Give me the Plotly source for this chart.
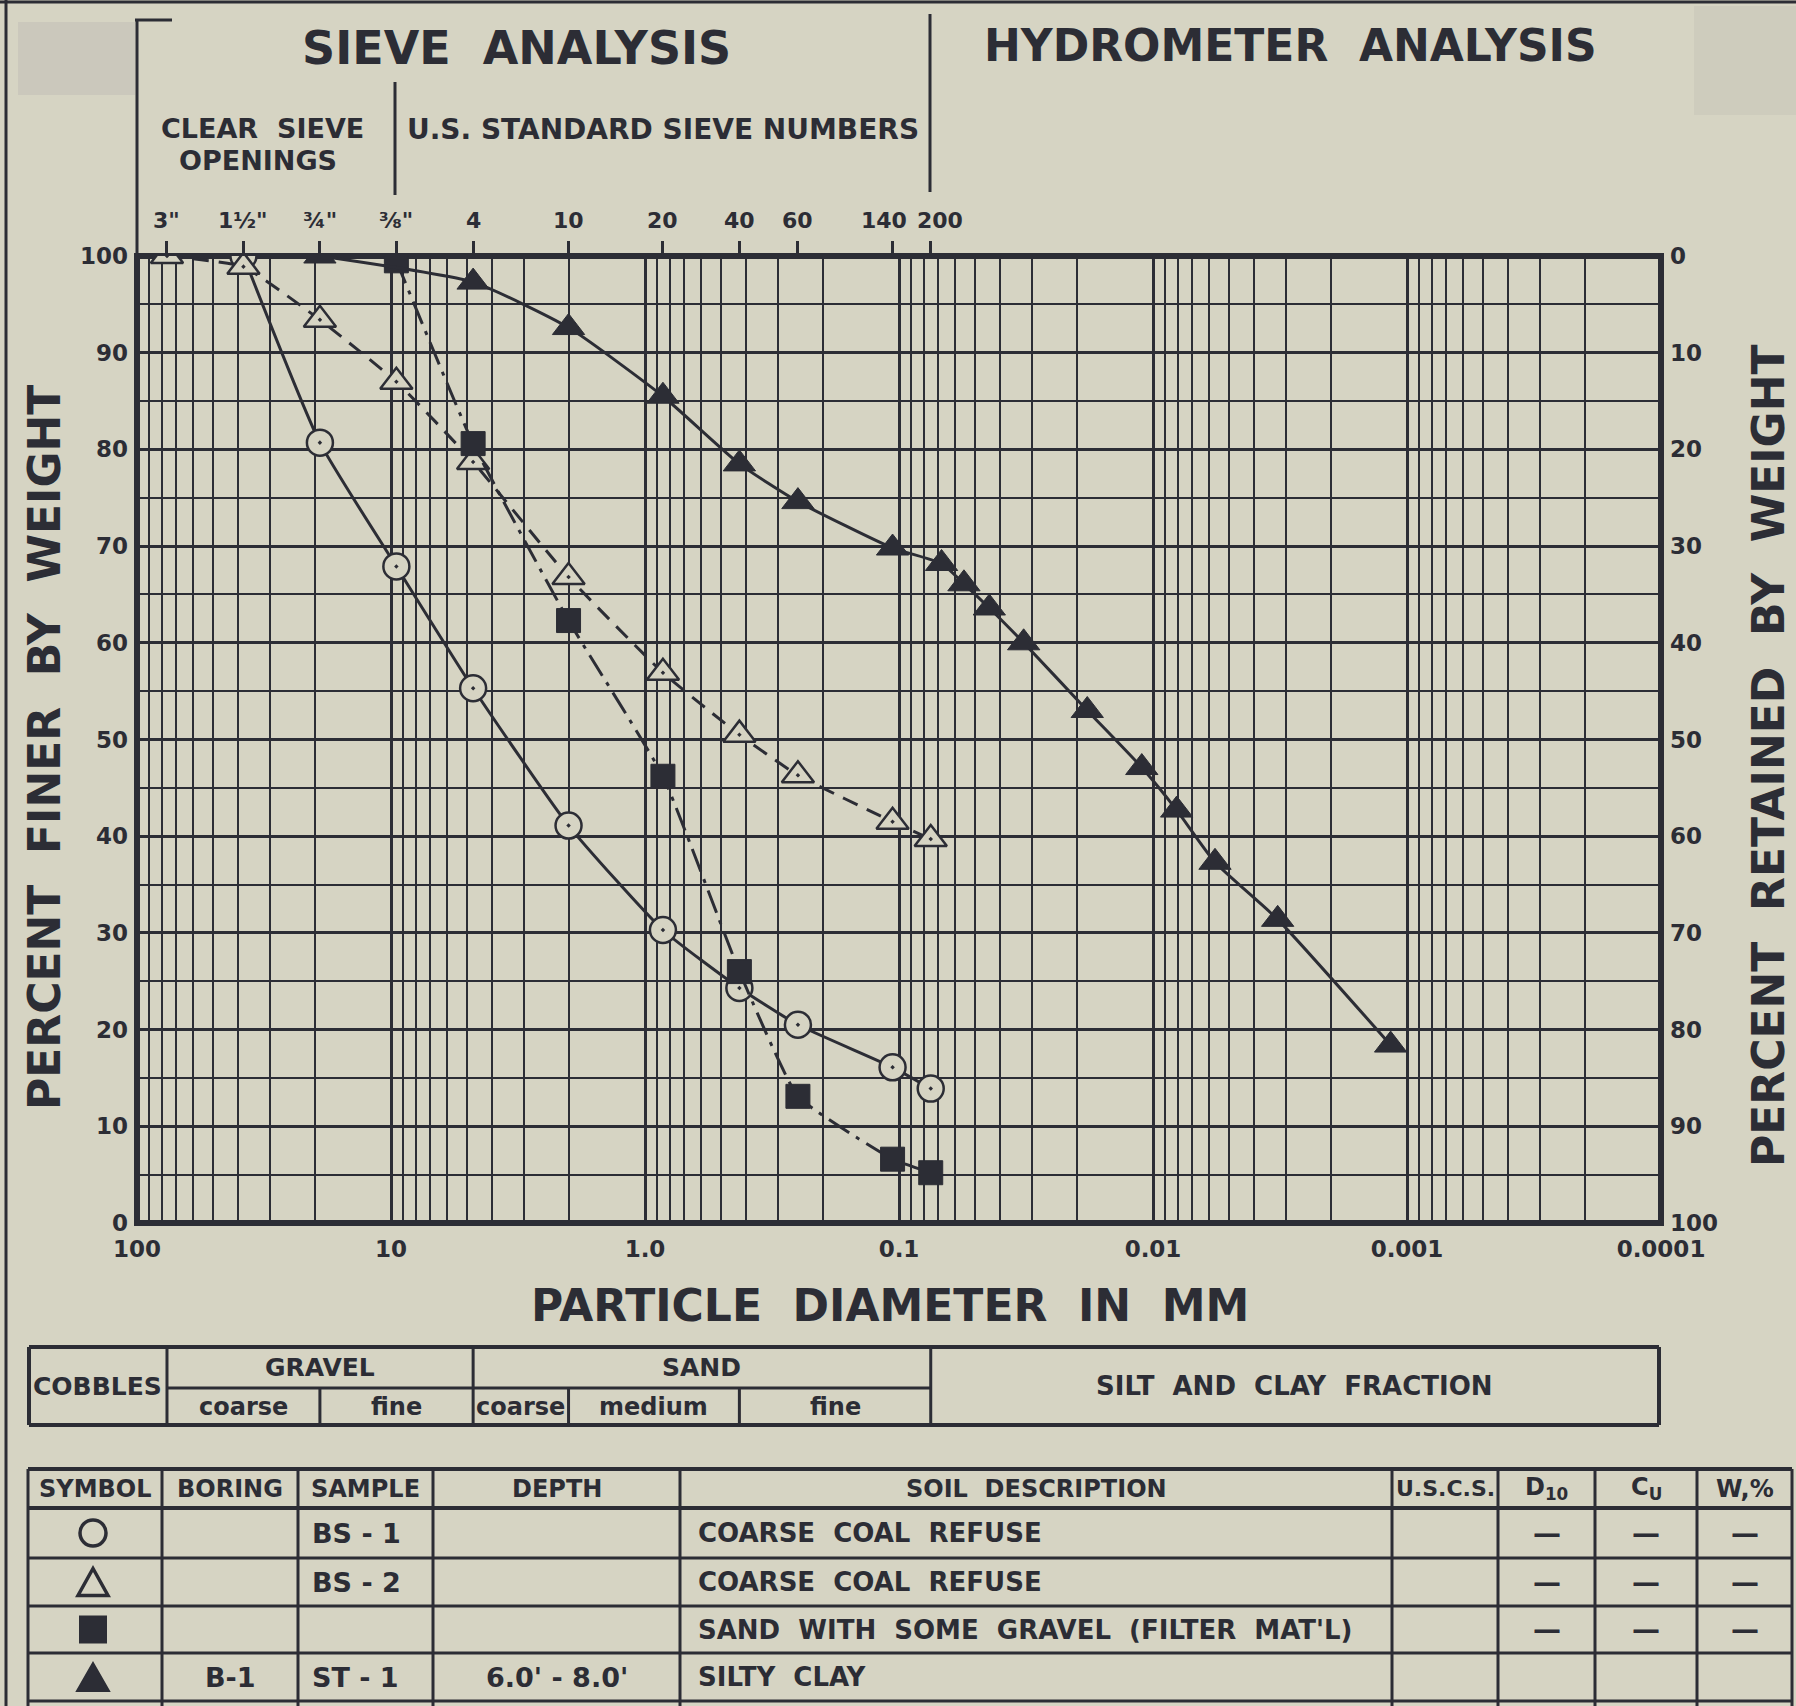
import math
import plotly.graph_objects as go

W, H = 1796, 1706
L, R, T, B = 137, 135, 256, 483
PW = W - L - R
PH = H - T - B

BG = "#d6d4c3"
INK = "#2c2d35"
FONT = "DejaVu Sans"
NB = "\u00a0"

# ---------------- data ----------------
decade_vals = [100, 10, 1, 0.1, 0.01, 0.001, 0.0001]
decade_text = ["100", "10", "1.0", "0.1", "0.01", "0.001", "0.0001"]

sieve_labels = ['3"', '1½"', '¾"', '⅜"', '4', '10', '20', '40', '60', '140', '200']
sieve_mm = [76.2, 38.1, 19.05, 9.525, 4.75, 2.0, 0.85, 0.425, 0.25, 0.106, 0.075]

pct_ticks = [0, 10, 20, 30, 40, 50, 60, 70, 80, 90, 100]

bs1_mm = [38.1, 19.05, 9.525, 4.75, 2.0, 0.85, 0.425, 0.25, 0.106, 0.075]
bs1_pct = [100, 80.7, 67.9, 55.3, 41.1, 30.3, 24.3, 20.5, 16.1, 13.9]

bs2_mm = [76.2, 38.1, 19.05, 9.525, 4.75, 2.0, 0.85, 0.425, 0.25, 0.106, 0.075]
bs2_pct = [100, 98.9, 93.4, 87.0, 78.7, 66.8, 56.9, 50.5, 46.3, 41.5, 39.7]

filt_mm = [9.525, 4.75, 2.0, 0.85, 0.425, 0.25, 0.106, 0.075]
filt_pct = [99.5, 80.6, 62.3, 46.2, 26.0, 13.1, 6.6, 5.2]

st1_mm = [19.05, 4.75, 2.0, 0.85, 0.425, 0.25, 0.106, 0.068, 0.0555, 0.0441,
          0.0323, 0.01815, 0.01107, 0.00807, 0.0057, 0.00323, 0.00116]
st1_pct = [100, 97.3, 92.6, 85.5, 78.5, 74.6, 69.8, 68.2, 66.1, 63.6,
           60.0, 53.0, 47.1, 42.7, 37.3, 31.4, 18.4]

class_bounds_mm = [76.2, 19.05, 4.75, 2.0, 0.425, 0.075]

table_cols = ["SYMBOL", "BORING", "SAMPLE", "DEPTH", "SOIL DESCRIPTION",
              "U.S.C.S.", "D<sub>10</sub>", "C<sub>U</sub>", "W,%"]
boring = ["", "", "", "B-1"]
sample = ["BS - 1", "BS - 2", "", "ST - 1"]
depth = ["", "", "", "6.0' - 8.0'"]
description = ["COARSE  COAL  REFUSE", "COARSE  COAL  REFUSE",
               "SAND  WITH  SOME  GRAVEL  (FILTER  MAT'L)", "SILTY  CLAY"]
d10 = ["—", "—", "—", ""]
cu = ["—", "—", "—", ""]
wpct = ["—", "—", "—", ""]

# ---------------- helpers ----------------
def xp(px):
    return (px - L) / PW

def yp(py):
    return (T + PH - py) / PH

def mm_px(d):
    return L + (2 - math.log10(d)) / 6 * PW

shapes = []
annotations = []

def line(x0, y0, x1, y1, w=3, layer="above"):
    shapes.append(dict(type="line", xref="paper", yref="paper",
                       x0=xp(x0), y0=yp(y0), x1=xp(x1), y1=yp(y1),
                       line=dict(color=INK, width=w), layer=layer))

def text(x, y, s, size, xanchor="center", angle=0):
    annotations.append(dict(xref="paper", yref="paper", x=xp(x), y=yp(y),
                            text=s, showarrow=False, textangle=angle,
                            xanchor=xanchor, yanchor="middle",
                            font=dict(family=FONT, size=size, color=INK, weight="bold")))

def sp(s):
    return s.replace("  ", NB + NB)

# ---------------- figure ----------------
fig = go.Figure()

fig.add_trace(go.Scatter(
    x=bs1_mm, y=bs1_pct, mode="lines+markers",
    line=dict(color=INK, width=3, shape="spline", smoothing=0.5),
    marker=dict(symbol="circle-dot", size=26, color=BG, line=dict(color=INK, width=2.5)),
    name="BS-1"))

fig.add_trace(go.Scatter(
    x=bs2_mm, y=bs2_pct, mode="lines+markers",
    line=dict(color=INK, width=3, dash="16px,10px", shape="spline", smoothing=0.4),
    marker=dict(symbol="triangle-up-dot", size=28, color=BG, line=dict(color=INK, width=2.5)),
    name="BS-2"))

fig.add_trace(go.Scatter(
    x=filt_mm, y=filt_pct, mode="lines+markers",
    line=dict(color=INK, width=3, dash="24px,8px,4px,8px", shape="spline", smoothing=0.4),
    marker=dict(symbol="square", size=24, color=INK, line=dict(color=INK, width=1)),
    name="Filter"))

fig.add_trace(go.Scatter(
    x=st1_mm, y=st1_pct, mode="lines+markers",
    line=dict(color=INK, width=3, shape="spline", smoothing=0.5),
    marker=dict(symbol="triangle-up", size=28, color=INK, line=dict(color=INK, width=1)),
    name="ST-1"))

# carrier trace so the top (sieve) and right (retained) axes are drawn
fig.add_trace(go.Scatter(
    x=sieve_mm, y=[None] * len(sieve_mm), xaxis="x2", yaxis="y2",
    mode="markers", marker=dict(opacity=0), hoverinfo="skip", showlegend=False))

minor_x = [k * 10 ** n for n in range(-4, 2) for k in range(2, 10)]
minor_y = [5 + 10 * i for i in range(10)]

tickfont = dict(family=FONT, size=23, color=INK, weight="bold")

fig.update_layout(
    width=W, height=H,
    margin=dict(l=L, r=R, t=T, b=B, autoexpand=False),
    paper_bgcolor=BG, plot_bgcolor=BG,
    showlegend=False,
    xaxis=dict(type="log", range=[2, -4], tickvals=decade_vals, ticktext=decade_text,
               showgrid=True, gridcolor=INK, gridwidth=2.5, zeroline=False,
               showline=False, ticks="", tickfont=tickfont, ticklabelstandoff=10,
               tickangle=0,
               minor=dict(tickvals=minor_x, showgrid=True, gridcolor=INK, gridwidth=2, ticks="")),
    yaxis=dict(range=[0, 100], tickvals=pct_ticks, showgrid=True, gridcolor=INK,
               gridwidth=2.5, zeroline=False, showline=False, ticks="",
               tickfont=tickfont, ticklabelstandoff=8,
               minor=dict(tickvals=minor_y, showgrid=True, gridcolor=INK, gridwidth=2, ticks="")),
    xaxis2=dict(type="log", range=[2, -4], overlaying="x", side="top", anchor="y",
                tickvals=sieve_mm, showticklabels=False, showgrid=False, zeroline=False,
                ticks="outside", ticklen=14, tickwidth=2.5, tickcolor=INK),
    yaxis2=dict(range=[100, 0], overlaying="y", side="right", anchor="x",
                tickvals=pct_ticks, showgrid=False, zeroline=False, ticks="",
                tickfont=tickfont, ticklabelstandoff=8),
)

# sieve labels above the top ticks (140/200 nudged apart as on the sheet)
label_nudge = {"140": -9, "200": 9}
for d, lab in zip(sieve_mm, sieve_labels):
    text(mm_px(d) + label_nudge.get(lab, 0), 221, lab, 22)

# plot frame
shapes.append(dict(type="rect", xref="paper", yref="paper", x0=0, y0=0, x1=1, y1=1,
                   line=dict(color=INK, width=6), layer="between"))

# page marks / artifacts
shapes.append(dict(type="rect", xref="paper", yref="paper", x0=xp(18), x1=xp(135),
                   y0=yp(95), y1=yp(22), fillcolor="#bfbbb3", opacity=0.45,
                   line=dict(width=0), layer="below"))
shapes.append(dict(type="rect", xref="paper", yref="paper", x0=xp(1694), x1=xp(1796),
                   y0=yp(115), y1=yp(6), fillcolor="#c6c3b6", opacity=0.45,
                   line=dict(width=0), layer="below"))
line(6, 0, 6, 1706, w=3)
line(0, 2, 1796, 2, w=3)
line(135, 20, 172, 20, w=3)

# header dividers
line(137, 20, 137, 256, w=3)
line(395, 82, 395, 195, w=3)
line(930, 14, 930, 192, w=3)

text(516, 48, sp("SIEVE  ANALYSIS"), 46)
text(1290, 46, sp("HYDROMETER  ANALYSIS"), 44)
text(262, 128, sp("CLEAR  SIEVE"), 27)
text(258, 160, "OPENINGS", 27)
text(663, 129, "U.S. STANDARD SIEVE NUMBERS", 28)

# axis titles
text(44, 748, sp("PERCENT  FINER  BY  WEIGHT"), 44, angle=-90)
text(1768, 756, sp("PERCENT  RETAINED  BY  WEIGHT"), 44, angle=-90)
text(890, 1305, sp("PARTICLE  DIAMETER  IN  MM"), 44)

# ---------------- classification bar ----------------
cx = [mm_px(d) for d in class_bounds_mm]
c_left, c_right = 29, 1659
c_top, c_mid, c_bot = 1347, 1388, 1425
line(c_left, c_top, c_right, c_top, w=4)
line(c_left, c_bot, c_right, c_bot, w=4)
line(c_left, c_top, c_left, c_bot, w=4)
line(c_right, c_top, c_right, c_bot, w=4)
line(cx[0], c_mid, cx[5], c_mid, w=3)
line(cx[0], c_top, cx[0], c_bot, w=3)
line(cx[2], c_top, cx[2], c_bot, w=3)
line(cx[5], c_top, cx[5], c_bot, w=3)
line(cx[1], c_mid, cx[1], c_bot, w=3)
line(cx[3], c_mid, cx[3], c_bot, w=3)
line(cx[4], c_mid, cx[4], c_bot, w=3)

text((c_left + cx[0]) / 2, (c_top + c_bot) / 2, "COBBLES", 25)
text((cx[0] + cx[2]) / 2, (c_top + c_mid) / 2, "GRAVEL", 25)
text((cx[2] + cx[5]) / 2, (c_top + c_mid) / 2, "SAND", 25)
text((cx[0] + cx[1]) / 2, (c_mid + c_bot) / 2, "coarse", 24)
text((cx[1] + cx[2]) / 2, (c_mid + c_bot) / 2, "fine", 24)
text((cx[2] + cx[3]) / 2, (c_mid + c_bot) / 2, "coarse", 24)
text((cx[3] + cx[4]) / 2, (c_mid + c_bot) / 2, "medium", 24)
text((cx[4] + cx[5]) / 2, (c_mid + c_bot) / 2, "fine", 24)
text((cx[5] + c_right) / 2, (c_top + c_bot) / 2, sp("SILT  AND  CLAY  FRACTION"), 26)

# ---------------- legend table ----------------
tcols = [28, 162, 298, 433, 680, 1392, 1498, 1595, 1697, 1792]
trows = [1469, 1508, 1558, 1606, 1653, 1701]
for i, y in enumerate(trows):
    line(tcols[0], y, tcols[-1], y, w=4 if i < 2 else 3)
for x in tcols:
    line(x, trows[0], x, 1706, w=3)

hdr_y = (trows[0] + trows[1]) / 2
for i, lab in enumerate(table_cols):
    size = 22 if lab == "U.S.C.S." else 24
    if lab == "SOIL DESCRIPTION":
        lab = sp("SOIL  DESCRIPTION")
    text((tcols[i] + tcols[i + 1]) / 2, hdr_y, lab, size)

row_y = [(trows[i] + trows[i + 1]) / 2 for i in range(1, 5)]
for r in range(4):
    y = row_y[r]
    if boring[r]:
        text((tcols[1] + tcols[2]) / 2, y, boring[r], 27)
    if sample[r]:
        text(tcols[2] + 12, y, sample[r], 27, xanchor="left")
    if depth[r]:
        text((tcols[3] + tcols[4]) / 2, y, depth[r], 27)
    text(tcols[4] + 16, y, sp(description[r]), 26, xanchor="left")
    for c, vals in ((6, d10), (7, cu), (8, wpct)):
        if vals[r]:
            text((tcols[c] + tcols[c + 1]) / 2, y, vals[r], 28)

# legend symbols
sx = 93
shapes.append(dict(type="circle", xref="paper", yref="paper",
                   x0=xp(sx - 13), x1=xp(sx + 13), y0=yp(row_y[0] + 13), y1=yp(row_y[0] - 13),
                   line=dict(color=INK, width=3.5), layer="above"))

def tri_path(cxp, cyp, half_w, h):
    pts = [(cxp, cyp - h / 2), (cxp - half_w, cyp + h / 2), (cxp + half_w, cyp + h / 2)]
    return "M {} {} L {} {} L {} {} Z".format(*[v for p in pts for v in (xp(p[0]), yp(p[1]))])

shapes.append(dict(type="path", xref="paper", yref="paper", path=tri_path(sx, row_y[1], 15, 27),
                   line=dict(color=INK, width=3.5), layer="above"))
shapes.append(dict(type="rect", xref="paper", yref="paper",
                   x0=xp(sx - 13), x1=xp(sx + 13), y0=yp(row_y[2] + 13), y1=yp(row_y[2] - 13),
                   fillcolor=INK, line=dict(color=INK, width=2), layer="above"))
shapes.append(dict(type="path", xref="paper", yref="paper", path=tri_path(sx, row_y[3], 16, 28),
                   fillcolor=INK, line=dict(color=INK, width=2), layer="above"))

fig.update_layout(shapes=shapes, annotations=annotations)
fig.write_html(
    "out.html",
    config={"displayModeBar": False},
    post_script="document.body.style.margin='0';document.body.style.overflow='hidden';"
                "document.body.style.background='" + BG + "';",
)
